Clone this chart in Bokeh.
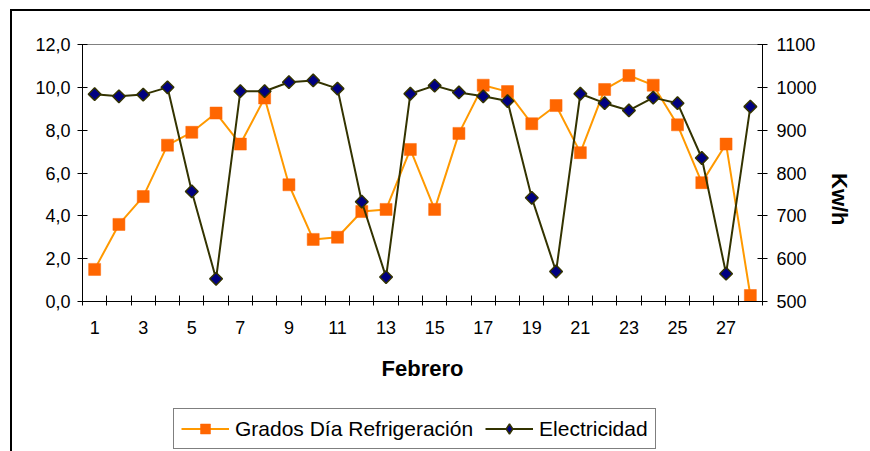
from bokeh.plotting import figure
from bokeh.models import (Range1d, LinearAxis, FixedTicker, Legend, LegendItem,
                          ColumnDataSource, InlineStyleSheet)
from bokeh.layouts import column
from bokeh.embed import file_html
from bokeh.resources import INLINE
import math

# ---- data ----
days = list(range(1, 29))
grados = [1.5, 3.6, 4.9, 7.3, 7.9, 8.8, 7.35, 9.5, 5.45, 2.9, 3.0, 4.2, 4.3, 7.1,
          4.3, 7.85, 10.1, 9.8, 8.3, 9.15, 6.95, 9.9, 10.55, 10.1, 8.25, 5.55, 7.35, 0.28]
electricidad = [984, 979, 983, 1000, 757, 553, 991, 991, 1012, 1016, 997, 733, 557, 985,
                1004, 988, 979, 968, 742, 570, 985, 963, 946, 976, 963, 835, 565, 955]
x_tick_labels = [str(d) for d in range(1, 29, 2)]
left_ticks = [0, 2, 4, 6, 8, 10, 12]
left_tick_labels = ["0,0", "2,0", "4,0", "6,0", "8,0", "10,0", "12,0"]
right_ticks = [500, 600, 700, 800, 900, 1000, 1100]
label_grados = "Grados Día Refrigeración"
label_elec = "Electricidad"
x_title = "Febrero"
y2_title = "Kw/h"

FONT = "Liberation Sans"
ORANGE_LINE, ORANGE_MARK = "#FF9900", "#FF6600"
DARK_LINE, NAVY = "#333300", "#000080"

src = ColumnDataSource(data=dict(x=days, g=grados, e=electricidad))

p = figure(frame_width=680, frame_height=257, output_backend="svg", toolbar_location=None,
           x_range=Range1d(0.5, 28.5), y_range=Range1d(0, 12),
           min_border_left=82, min_border_right=108, min_border_top=44,
           min_border_bottom=89)
p.extra_y_ranges = {"elec": Range1d(500, 1100)}
p.xgrid.visible = False
p.ygrid.visible = False
p.outline_line_color = "#808080"
p.outline_line_width = 1
p.background_fill_color = "white"
p.border_fill_color = "white"

# x axis
xa = p.xaxis[0]
xa.ticker = FixedTicker(ticks=[int(s) for s in x_tick_labels],
                        minor_ticks=[d + 0.5 for d in range(0, 29)])
xa.major_label_overrides = {int(s): s for s in x_tick_labels}
xa.major_tick_line_color = None
xa.major_tick_in = 0
xa.major_tick_out = 0
xa.minor_tick_in = 6
xa.minor_tick_out = 4
xa.minor_tick_line_color = "black"
xa.axis_line_color = "black"
xa.major_label_text_font = FONT
xa.major_label_text_font_size = "18px"
xa.major_label_text_color = "black"
xa.major_label_standoff = 15
xa.axis_label = x_title
xa.axis_label_text_font = FONT
xa.axis_label_text_font_style = "bold"
xa.axis_label_text_font_size = "22px"
xa.axis_label_standoff = 19
xa.axis_label_text_color = "black"

# left axis
ya = p.yaxis[0]
ya.ticker = FixedTicker(ticks=left_ticks, minor_ticks=[])
ya.major_label_overrides = {t: l for t, l in zip(left_ticks, left_tick_labels)}
ya.major_tick_in = 5
ya.major_tick_out = 5
ya.major_label_standoff = 7
ya.major_label_text_font = FONT
ya.major_label_text_font_size = "18px"
ya.major_label_text_color = "black"
ya.axis_line_color = "black"
ya.major_tick_line_color = "black"
ya.minor_tick_line_color = None

# right axis
ra = LinearAxis(y_range_name="elec", ticker=FixedTicker(ticks=right_ticks, minor_ticks=[]))
ra.major_tick_in = 5
ra.major_tick_out = 5
ra.major_label_standoff = 9
ra.major_label_text_font = FONT
ra.major_label_text_font_size = "18px"
ra.major_label_text_color = "black"
ra.axis_line_color = "black"
ra.major_tick_line_color = "black"
ra.minor_tick_line_color = None
ra.axis_label = y2_title
ra.axis_label_orientation = -math.pi / 2
ra.axis_label_text_font = FONT
ra.axis_label_text_font_style = "bold"
ra.axis_label_text_font_size = "22px"
ra.axis_label_standoff = 20
ra.axis_label_text_color = "black"
p.add_layout(ra, "right")

# series
p.line("x", "g", source=src, line_color=ORANGE_LINE, line_width=2)
p.scatter("x", "g", source=src, marker="square", size=12,
          fill_color=ORANGE_MARK, line_color=ORANGE_MARK, line_width=0.5)
p.line("x", "e", source=src, y_range_name="elec", line_color=DARK_LINE, line_width=2)
p.scatter("x", "e", source=src, y_range_name="elec", marker="square", size=9,
          angle=math.pi / 4, fill_color=NAVY, line_color=DARK_LINE, line_width=1.5)

# legend strip (separate figure below the chart, no axes; its ranges keep the
# series themselves out of view so only the legend shows)
lg = figure(width=870, height=61, output_backend="svg", toolbar_location=None,
            x_range=Range1d(1000, 1001), y_range=Range1d(5000, 5001),
            x_axis_type=None, y_axis_type=None, min_border=0)
lg.outline_line_color = None
lg.xgrid.visible = False
lg.ygrid.visible = False
lg.background_fill_color = "white"
lg.border_fill_color = "white"
k1 = lg.line("x", "g", source=src, line_color=ORANGE_LINE, line_width=2)
k2 = lg.scatter("x", "g", source=src, marker="square", size=10,
                fill_color=ORANGE_MARK, line_color=ORANGE_MARK, line_width=0.5)
k3 = lg.line("x", "e", source=src, line_color=DARK_LINE, line_width=2)
k4 = lg.scatter("x", "e", source=src, marker="diamond", size=13,
                fill_color=NAVY, line_color=DARK_LINE, line_width=1.5)
legend = Legend(items=[LegendItem(label=label_grados, renderers=[k1, k2]),
                       LegendItem(label=label_elec, renderers=[k3, k4])],
                orientation="horizontal", location=(91, 2),
                border_line_color="black", border_line_width=1,
                label_text_font=FONT, label_text_font_size="21px",
                label_text_color="black",
                glyph_width=48, glyph_height=25, label_standoff=6,
                spacing=12, padding=7, margin=0,
                background_fill_alpha=1.0)
lg.add_layout(legend, "center")

layout = column(p, lg, spacing=0)
layout.stylesheets = [InlineStyleSheet(css=(
    ":host { position: relative; } "
    ":host::after { content: ''; position: absolute; left: 10px; top: 9px; "
    "right: 0px; bottom: 0px; border-left: 2px solid black; border-top: 2px solid black; "
    "pointer-events: none; }"))]

open("out.html", "w").write(file_html(layout, INLINE))
